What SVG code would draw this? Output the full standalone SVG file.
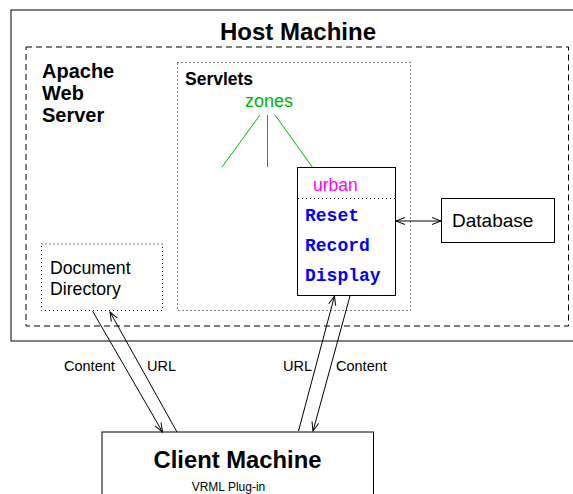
<svg xmlns="http://www.w3.org/2000/svg" width="573" height="494" viewBox="0 0 573 494">
<defs>
<style>
.box{fill:none;stroke:#000;stroke-width:1}
.dash{fill:none;stroke:#000;stroke-width:1;stroke-dasharray:6,4}
.dot{fill:none;stroke:#000;stroke-width:1;stroke-dasharray:1,3}
.conn{fill:none;stroke:#000;stroke-width:1}
.green{stroke:#00b400;stroke-width:1;fill:none}
.sans{font-family:"Liberation Sans",Arial,sans-serif;fill:#000}
.bold{font-weight:bold}
.mono{font-family:"Liberation Mono","Courier New",monospace;font-weight:bold;fill:#0000ff;font-size:18px}
</style>
<marker id="ah" viewBox="-10 -5 12 10" refX="0" refY="0" markerWidth="12" markerHeight="10" markerUnits="userSpaceOnUse" orient="auto-start-reverse">
<path d="M-9,-3.5 L0,0 L-9,3.5" fill="none" stroke="#000" stroke-width="1"/>
</marker>
</defs>
<rect width="573" height="494" fill="#fff"/>
<g id="host">
<rect class="box" x="11" y="10" width="600" height="331"/>
<text class="sans bold" x="298" y="40" font-size="24" text-anchor="middle">Host Machine</text>
</g>
<g id="apache">
<rect class="dash" x="26" y="47" width="542.5" height="279"/>
<text class="sans bold" font-size="20"><tspan x="42" y="78">Apache</tspan><tspan x="42" y="100">Web</tspan><tspan x="42" y="122">Server</tspan></text>
</g>
<g id="servlets">
<rect class="dot" x="177.5" y="62.5" width="233" height="248"/>
<text class="sans bold" x="185" y="85" font-size="17.5">Servlets</text>
</g>
<g id="zones">
<text class="sans" x="245" y="107" font-size="18" style="fill:#00b400">zones</text>
<line class="green" x1="260" y1="115" x2="222" y2="167"/>
<line class="green" x1="267.5" y1="115" x2="267.5" y2="167"/>
<line class="green" x1="275" y1="115" x2="313" y2="168"/>
</g>
<g id="urban">
<rect class="box" x="297.5" y="167.5" width="98" height="128" stroke="#222"/>
<text class="sans" x="313" y="191" font-size="17.5" style="fill:#ff00ff">urban</text>
<line class="dot" x1="298" y1="198.5" x2="395" y2="198.5"/>
<text class="mono" x="305" y="221">Reset</text>
<text class="mono" x="305" y="251">Record</text>
<text class="mono" x="305" y="281">Display</text>
</g>
<g id="database">
<rect class="box" x="441.5" y="198.5" width="113" height="44"/>
<text class="sans" x="452" y="227" font-size="19">Database</text>
</g>
<g id="docdir">
<rect class="dot" x="41.5" y="244" width="121" height="66.5"/>
<text class="sans" font-size="17.7"><tspan x="50" y="274">Document</tspan><tspan x="50" y="295">Directory</tspan></text>
</g>
<g id="client">
<rect class="box" x="102" y="432" width="271.5" height="100"/>
<text class="sans bold" x="237.5" y="468" font-size="23.8" text-anchor="middle">Client Machine</text>
<text class="sans" x="228.5" y="490.5" font-size="12" text-anchor="middle">VRML Plug-in</text>
</g>
<g id="connectors">
<line class="conn" x1="396" y1="221" x2="441" y2="221" marker-start="url(#ah)" marker-end="url(#ah)"/>
<line class="conn" x1="92.5" y1="311" x2="162.5" y2="432" marker-end="url(#ah)"/>
<line class="conn" x1="177" y1="432" x2="110" y2="312" marker-end="url(#ah)"/>
<line class="conn" x1="298.5" y1="431" x2="334.5" y2="296" marker-end="url(#ah)"/>
<line class="conn" x1="350" y1="296" x2="313" y2="431" marker-end="url(#ah)"/>
<text class="sans" x="64" y="371" font-size="14.5">Content</text>
<text class="sans" x="147" y="371" font-size="14.5">URL</text>
<text class="sans" x="283" y="371" font-size="14.5">URL</text>
<text class="sans" x="336" y="371" font-size="14.5">Content</text>
</g>
</svg>
